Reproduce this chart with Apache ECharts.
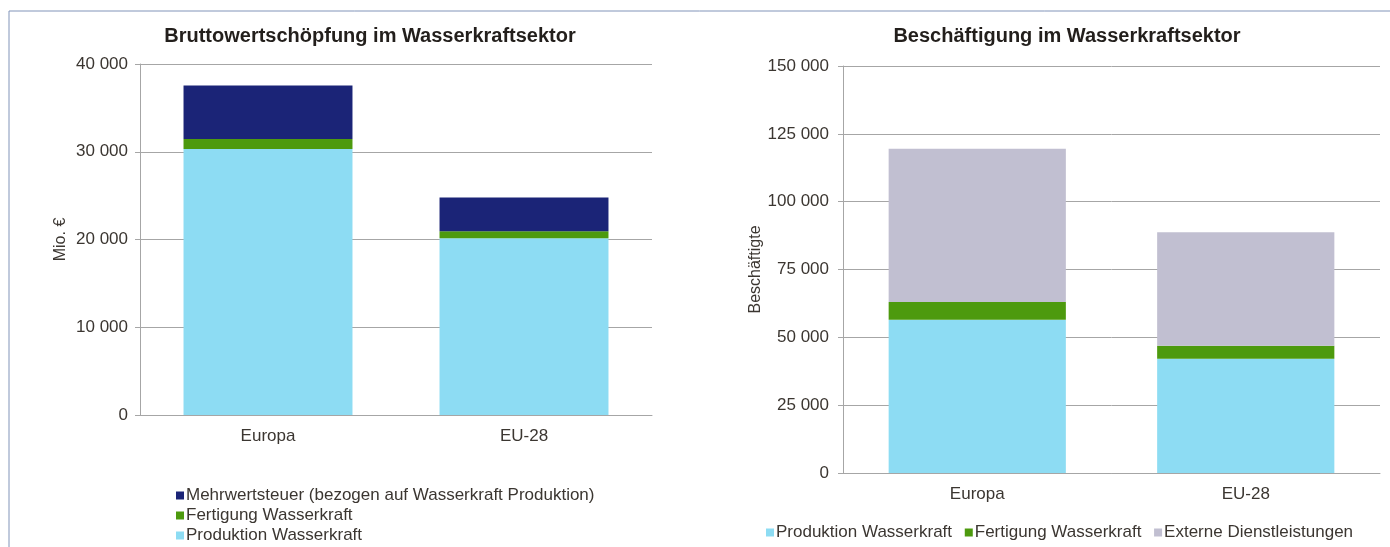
<!DOCTYPE html>
<html>
<head>
<meta charset="utf-8">
<script src="https://cdn.jsdelivr.net/npm/echarts@6/dist/echarts.min.js"></script>
<style>
  html, body { margin: 0; padding: 0; background: #fff; }
  #chart { width: 1390px; height: 547px; }
</style>
</head>
<body>
<div id="chart"></div>
<script>
// Categories shared by both panels
const categories = ['Europa', 'EU-28'];

// Gross value added (Mio. €)
const gvaProduktion = [30300, 20150];
const gvaFertigung = [1150, 800];
const gvaMwSt = [6100, 3850];

// Employment (persons)
const empProduktion = [56500, 42100];
const empFertigung = [6500, 4800];
const empExterne = [56500, 41800];

// Axis ranges
const gvaAxis = { min: 0, max: 40000, interval: 10000 };
const empAxis = { min: 0, max: 150000, interval: 25000 };

const FONT = '"Liberation Sans", Arial, sans-serif';
const TEXT = '#3b3631';
const GRID = '#a6a6a6';
const C_PROD = '#8ddcf3';
const C_FERT = '#4d9a0e';
const C_MWST = '#1b2477';
const C_EXT = '#c1bfd1';

const fmt = v => String(v).replace(/\B(?=(\d{3})+(?!\d))/g, ' ');

function valueAxis(gridIndex, range, name, nameGap, margin) {
  return {
    type: 'value', gridIndex, min: range.min, max: range.max, interval: range.interval,
    name, nameLocation: 'middle', nameGap, nameRotate: 90,
    nameTextStyle: { fontFamily: FONT, fontSize: 16, color: TEXT },
    axisLine: { show: true, lineStyle: { color: GRID, width: 1 } },
    axisTick: { show: true, length: 5, lineStyle: { color: GRID } },
    axisLabel: { fontFamily: FONT, fontSize: 17, color: TEXT, margin, formatter: fmt },
    splitLine: { show: true, lineStyle: { color: GRID, width: 1 } }
  };
}

function catAxis(gridIndex, margin) {
  return {
    type: 'category', gridIndex, data: categories,
    axisLine: { show: true, lineStyle: { color: GRID, width: 1 } },
    axisTick: { show: false },
    axisLabel: { fontFamily: FONT, fontSize: 17, color: TEXT, margin }
  };
}

function bar(name, data, color, idx, stack) {
  return {
    name, type: 'bar', data, stack, xAxisIndex: idx, yAxisIndex: idx,
    barWidth: '66%', itemStyle: { color }, emphasis: { disabled: true }
  };
}

const legendText = { fontFamily: FONT, fontSize: 17, color: TEXT, padding: [0, 0, 0, -3] };

const chart = echarts.init(document.getElementById('chart'), null, { renderer: 'canvas' });
chart.setOption({
  animation: false,
  backgroundColor: '#ffffff',
  title: [
    { text: 'Bruttowertschöpfung im Wasserkraftsektor', left: 365, top: 21, textAlign: 'center',
      textStyle: { fontFamily: FONT, fontSize: 20, fontWeight: 'bold', color: '#231f1c' } },
    { text: 'Beschäftigung im Wasserkraftsektor', left: 1062, top: 21, textAlign: 'center',
      textStyle: { fontFamily: FONT, fontSize: 20, fontWeight: 'bold', color: '#231f1c' } }
  ],
  grid: [
    { left: 140, right: 738, top: 64, bottom: 132 },
    { left: 843, right: 10, top: 66, bottom: 74 }
  ],
  xAxis: [catAxis(0, 13), catAxis(1, 13)],
  yAxis: [valueAxis(0, gvaAxis, 'Mio. €', 71, 12), valueAxis(1, empAxis, 'Beschäftigte', 79, 14)],
  legend: [
    { orient: 'vertical', left: 176, top: 487, height: 60, padding: 0, itemGap: 3, itemWidth: 8, itemHeight: 8,
      icon: 'rect', selectedMode: false, textStyle: legendText,
      data: ['Mehrwertsteuer (bezogen auf Wasserkraft Produktion)', 'Fertigung Wasserkraft', 'Produktion Wasserkraft'] },
    { orient: 'horizontal', left: 766, top: 524, padding: 0, itemGap: 8, itemWidth: 8, itemHeight: 8,
      icon: 'rect', selectedMode: false, textStyle: legendText,
      data: ['Produktion Wasserkraft ', 'Fertigung Wasserkraft ', 'Externe Dienstleistungen'] }
  ],
  series: [
    bar('Produktion Wasserkraft', gvaProduktion, C_PROD, 0, 'gva'),
    bar('Fertigung Wasserkraft', gvaFertigung, C_FERT, 0, 'gva'),
    bar('Mehrwertsteuer (bezogen auf Wasserkraft Produktion)', gvaMwSt, C_MWST, 0, 'gva'),
    bar('Produktion Wasserkraft ', empProduktion, C_PROD, 1, 'emp'),
    bar('Fertigung Wasserkraft ', empFertigung, C_FERT, 1, 'emp'),
    bar('Externe Dienstleistungen', empExterne, C_EXT, 1, 'emp')
  ],
  graphic: [
    { type: 'line', shape: { x1: 9, y1: 11, x2: 1390, y2: 11 }, style: { stroke: '#8194b9', lineWidth: 1 }, silent: true },
    { type: 'line', shape: { x1: 9, y1: 11, x2: 9, y2: 547 }, style: { stroke: '#8194b9', lineWidth: 1 }, silent: true }
  ]
});
</script>
</body>
</html>
